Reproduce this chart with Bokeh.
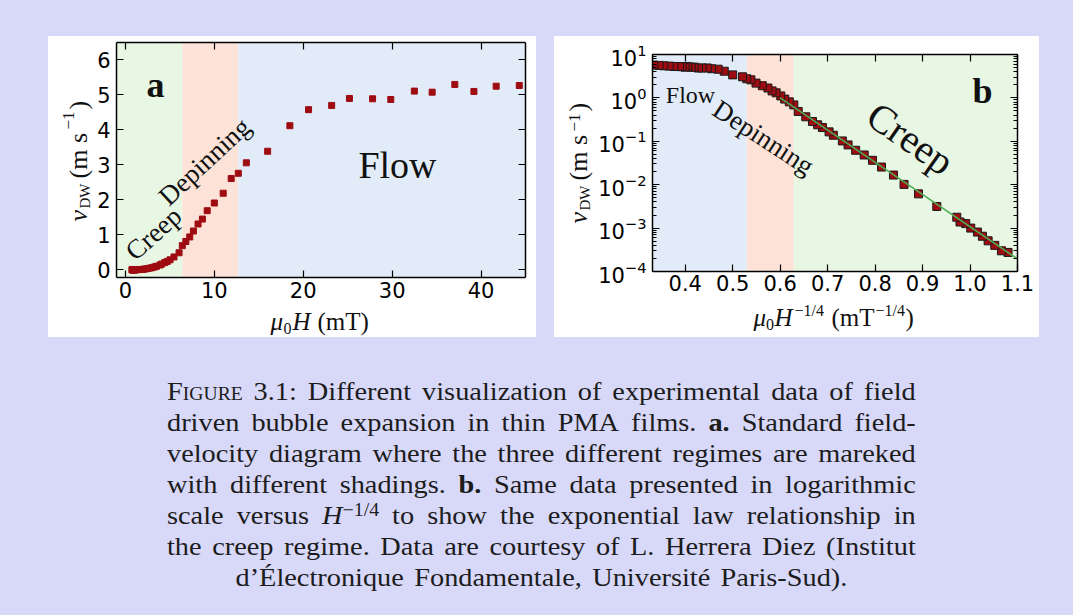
import math
from bokeh.plotting import figure
from bokeh.models import (Range1d, BoxAnnotation, Label, LinearAxis, LogAxis, FixedTicker,
                          PrintfTickFormatter, Spacer, Div, GlobalInlineStyleSheet, Row, Column)
from bokeh.core.properties import value
from bokeh.embed import file_html
from bokeh.resources import INLINE

# ---------------- data ----------------
field_mT = [0.735, 0.774, 0.816, 0.861, 0.902, 0.940, 0.994, 1.037, 1.089, 1.120,
            1.337, 1.584, 1.820, 2.021, 2.283, 2.510, 2.744, 3.013, 3.281, 3.502,
            3.891, 4.094, 4.437, 4.705, 5.022, 5.466, 6.036, 6.40, 6.80, 7.24,
            7.65, 8.17, 8.66, 9.20, 10.0, 11.0, 11.9, 12.7, 13.6, 16.0,
            18.5, 20.6, 23.2, 25.2, 27.8, 29.85, 32.5, 34.5, 37.05, 39.2,
            41.7, 44.3, 50.0, 55.6, 63.0, 70.6, 80.4]
velocity_ms = [0.000275, 0.0003, 0.0004, 0.00051, 0.00065, 0.00081, 0.00100, 0.00127, 0.00138, 0.00178,
               0.00315, 0.00615, 0.01016, 0.01668, 0.0255, 0.0365, 0.0484, 0.0622, 0.0826, 0.102,
               0.138, 0.165, 0.2075, 0.24, 0.286, 0.367, 0.487, 0.69, 0.81, 0.94,
               1.11, 1.31, 1.45, 1.69, 1.91, 2.19, 2.61, 2.76, 3.06, 3.39,
               4.12, 4.58, 4.70, 4.90, 4.89, 4.87, 5.11, 5.08, 5.30, 5.10,
               5.25, 5.27, 5.30, 5.40, 5.50, 5.60, 5.70]
regime_bounds_mT = [6.4, 12.7]          # creep|depinning, depinning|flow
fit_x = [0.60, 1.10]                     # creep-law fit (H^-1/4)
fit_v = [1.0, 1.95e-4]
xa_ticks = [0, 10, 20, 30, 40]
ya_ticks = [0, 1, 2, 3, 4, 5, 6]
xb_ticks = [0.4, 0.5, 0.6, 0.7, 0.8, 0.9, 1.0, 1.1]

h_inv_quarter = [h ** -0.25 for h in field_mT]
bounds_b = [h ** -0.25 for h in regime_bounds_mT]   # [~0.629, ~0.530]

caption_lines = [
    ['<span style="font-variant:small-caps">Figure</span>', '3.1:', 'Different', 'visualization', 'of',
     'experimental', 'data', 'of', 'field'],
    ['driven', 'bubble', 'expansion', 'in', 'thin', 'PMA', 'films.', '<b>a.</b>', 'Standard', 'field-'],
    ['velocity', 'diagram', 'where', 'the', 'three', 'different', 'regimes', 'are', 'mareked'],
    ['with', 'different', 'shadings.', '<b>b.</b>', 'Same', 'data', 'presented', 'in', 'logarithmic'],
    ['scale', 'versus', '<i>H</i><sup style="font-size:0.7em;vertical-align:0.45em;line-height:0">\u22121/4</sup>',
     'to', 'show', 'the', 'exponential', 'law', 'relationship', 'in'],
    ['the', 'creep', 'regime.', 'Data', 'are', 'courtesy', 'of', 'L.', 'Herrera', 'Diez', '(Institut'],
]
caption_last = 'd\u2019\u00c9lectronique Fondamentale, Universit\u00e9 Paris-Sud).'

# ---------------- styles ----------------
PAGE_BG = "#d8d8f9"
GREEN = "#e8f6e4"
ORANGE = "#fde3d7"
BLUE = "#e2ecf8"
MARK = "#9e0c12"
FIT = "#4fae55"
SERIF = "Liberation Serif"
SANS = "DejaVu Sans"
TICK_PX = "21px"
INK = "#111111"
MID = 0.3375   # em distance from alphabetic baseline to the text-box middle

ORIGINS = {}


def style_axis(ax, labels=True):
    ax.axis_line_width = 1.5
    ax.axis_line_color = "black"
    ax.major_tick_in = 7
    ax.major_tick_out = 0
    ax.major_tick_line_width = 1.2
    ax.minor_tick_in = 4
    ax.minor_tick_out = 0
    ax.minor_tick_line_width = 1.0
    ax.major_label_text_font = SANS
    ax.major_label_text_color = "black"
    ax.major_label_text_font_size = TICK_PX
    if not labels:
        ax.major_label_text_font_size = "1px"
        ax.major_label_text_color = None
        ax.major_label_standoff = 0


def put(p, fl, fb, px, py, text, size, style="normal", angle=0.0):
    """Centred label inside a plot frame; (px, py) = page pixels of the text-box centre."""
    p.add_layout(Label(x=px - fl, y=fb - py, x_units="screen", y_units="screen", text=text,
                       text_font=SERIF, text_font_size=f"{size}px", text_font_style=style,
                       angle=angle, text_align="center", text_baseline="middle", text_color=INK))


def strip(x0, x1, y0, y1):
    """Blank white figure whose data space is pixels (for compound axis titles)."""
    s = figure(width=x1 - x0, height=y1 - y0, x_range=Range1d(0, x1 - x0), y_range=Range1d(0, y1 - y0),
               x_axis_type=None, y_axis_type=None, output_backend="svg", toolbar_location=None,
               min_border=0, frame_align=False, border_fill_color="white",
               background_fill_color="white", outline_line_color=None)
    ORIGINS[s.id] = (x0, y1)
    return s


def htxt(s, px, base_y, t, size, style="normal"):
    """Horizontal text starting at page x, with alphabetic baseline at page y."""
    x0, yb = ORIGINS[s.id]
    s.text(x=[px - x0], y=[yb - (base_y - MID * size)], text=[t], text_font=value(SERIF),
           text_font_size=value(f"{size}px"), text_font_style=value(style), angle=0,
           text_align="left", text_baseline="middle", text_color=INK)


def vtxt(s, base_x, py, t, size, style="normal"):
    """Upward-reading text with baseline at page x, starting at page y."""
    x0, yb = ORIGINS[s.id]
    s.text(x=[(base_x - MID * size) - x0], y=[yb - py], text=[t], text_font=value(SERIF),
           text_font_size=value(f"{size}px"), text_font_style=value(style), angle=math.pi / 2,
           text_align="left", text_baseline="middle", text_color=INK)


# ---------------- panel a ----------------
pa = figure(frame_width=409, frame_height=235, x_range=Range1d(-1, 45), y_range=Range1d(-0.22, 6.5),
            output_backend="svg", toolbar_location=None, frame_align=False,
            min_border_left=22, min_border_right=11, min_border_top=6, min_border_bottom=30,
            border_fill_color="white", background_fill_color="white", outline_line_color=None)
pa.grid.visible = False
pa.add_layout(BoxAnnotation(right=regime_bounds_mT[0], fill_color=GREEN, fill_alpha=1,
                            line_color=None, level="underlay"))
pa.add_layout(BoxAnnotation(left=regime_bounds_mT[0], right=regime_bounds_mT[1], fill_color=ORANGE,
                            fill_alpha=1, line_color=None, level="underlay"))
pa.add_layout(BoxAnnotation(left=regime_bounds_mT[1], fill_color=BLUE, fill_alpha=1,
                            line_color=None, level="underlay"))
pa.scatter(field_mT, velocity_ms, marker="square", size=6, fill_color=MARK, line_color=MARK)

ta_x = FixedTicker(ticks=xa_ticks)
ta_y = FixedTicker(ticks=ya_ticks)
pa.xaxis.ticker = ta_x
pa.yaxis.ticker = ta_y
style_axis(pa.xaxis[0])
style_axis(pa.yaxis[0])
pa.xaxis.major_label_standoff = 4
pa.yaxis.major_label_standoff = 6
a_top = LinearAxis(ticker=ta_x)
a_right = LinearAxis(ticker=ta_y)
style_axis(a_top, labels=False)
style_axis(a_right, labels=False)
pa.add_layout(a_top, "above")
pa.add_layout(a_right, "right")

FLa, FBa = 116, 277
put(pa, FLa, FBa, 155, 84, "a", 36, style="bold")
put(pa, FLa, FBa, 397, 164, "Flow", 38)
put(pa, FLa, FBa, 153, 233, "Creep", 27, angle=math.radians(42))
put(pa, FLa, FBa, 204, 161, "Depinning", 27, angle=math.radians(43))

# axis titles of panel a
ya_strip = strip(48, 94, 36, 337)
vtxt(ya_strip, 87, 221, "v", 26, style="italic")
vtxt(ya_strip, 89.5, 208, "DW", 15)
vtxt(ya_strip, 87, 178, "(m s", 26)
vtxt(ya_strip, 74, 129, "\u22121", 17)
vtxt(ya_strip, 87, 109, ")", 26)

xa_strip = strip(94, 536, 307, 337)
htxt(xa_strip, 270, 329.5, "\u03bc", 25, style="italic")
htxt(xa_strip, 283, 333, "0", 16)
htxt(xa_strip, 292, 329.5, "H", 25, style="italic")
htxt(xa_strip, 317, 329.5, "(mT)", 25)

# ---------------- panel b ----------------
pb = figure(frame_width=365, frame_height=217, x_range=Range1d(0.331, 1.1), y_range=Range1d(1e-4, 10),
            y_axis_type="log", output_backend="svg", toolbar_location=None, frame_align=False,
            min_border_left=58, min_border_right=22, min_border_top=18, min_border_bottom=30,
            border_fill_color="white", background_fill_color="white", outline_line_color=None)
pb.grid.visible = False
pb.add_layout(BoxAnnotation(right=bounds_b[1], fill_color=BLUE, fill_alpha=1,
                            line_color=None, level="underlay"))
pb.add_layout(BoxAnnotation(left=bounds_b[1], right=bounds_b[0], fill_color=ORANGE, fill_alpha=1,
                            line_color=None, level="underlay"))
pb.add_layout(BoxAnnotation(left=bounds_b[0], fill_color=GREEN, fill_alpha=1,
                            line_color=None, level="underlay"))
pb.scatter(h_inv_quarter, velocity_ms, marker="square", size=8, fill_color=MARK,
           line_color="#1a1a1a", line_width=1)
pb.line(fit_x, fit_v, line_color=FIT, line_width=1.6)

tb_x = FixedTicker(ticks=xb_ticks)
pb.xaxis.ticker = tb_x
pb.xaxis.formatter = PrintfTickFormatter(format="%.1f")
style_axis(pb.xaxis[0])
style_axis(pb.yaxis[0])
pb.xaxis.major_label_standoff = 3
pb.yaxis.major_label_standoff = 6
tb_y = pb.yaxis[0].ticker
b_top = LinearAxis(ticker=tb_x)
b_right = LogAxis(ticker=tb_y)
style_axis(b_top, labels=False)
style_axis(b_right, labels=False)
pb.add_layout(b_top, "above")
pb.add_layout(b_right, "right")

FLb, FBb = 652, 271
put(pb, FLb, FBb, 982, 90, "b", 36, style="bold")
put(pb, FLb, FBb, 690, 94, "Flow", 24)
put(pb, FLb, FBb, 763, 137, "Depinning", 27, angle=math.radians(-33))
put(pb, FLb, FBb, 910, 138, "Creep", 40, angle=math.radians(-35))

yb_strip = strip(554, 594, 36, 337)
vtxt(yb_strip, 587, 223, "v", 26, style="italic")
vtxt(yb_strip, 589.5, 210, "DW", 15)
vtxt(yb_strip, 587, 180, "(m s", 26)
vtxt(yb_strip, 580, 131, "\u22121", 17)
vtxt(yb_strip, 587, 111, ")", 26)

xb_strip = strip(594, 1039, 301, 337)
htxt(xb_strip, 753, 325, "\u03bc", 25, style="italic")
htxt(xb_strip, 765.5, 329.5, "0", 16)
htxt(xb_strip, 774, 325, "H", 25, style="italic")
htxt(xb_strip, 794, 315.5, "\u22121/4", 16)
htxt(xb_strip, 831, 325, "(mT", 25)
htxt(xb_strip, 875, 315.5, "\u22121/4", 16)
htxt(xb_strip, 905, 325, ")", 25)

# ---------------- caption ----------------
SCALE = 1.09
inner_w = round(749 / SCALE)
box = (f"width:{inner_w}px;transform:scaleX({SCALE});transform-origin:0 0;"
       "height:31px;white-space:nowrap;")
html = ['<div style="font-family:\'Liberation Serif\';font-size:26px;line-height:31px;'
        'color:#1c1c1c;width:749px;">']
for words in caption_lines:
    html.append('<div style="' + box + 'display:flex;justify-content:space-between;">'
                + ''.join(f'<span>{w}</span>' for w in words) + '</div>')
html.append('<div style="' + box + 'text-align:center;word-spacing:3px;">' + caption_last + '</div>')
html.append('</div>')
caption = Div(text=''.join(html), width=749, height=222)

WHITE = {"background-color": "white"}
panel_a = Row(children=[ya_strip, Column(children=[pa, xa_strip], styles=WHITE)], styles=WHITE)
panel_b = Row(children=[yb_strip, Column(children=[pb, xb_strip], styles=WHITE)], styles=WHITE)

layout = Column(
    children=[
        Spacer(width=10, height=36),
        Row(children=[Spacer(width=48, height=10), panel_a, Spacer(width=18, height=10), panel_b]),
        Spacer(width=10, height=34),
        Row(children=[Spacer(width=162, height=10), caption]),
    ],
    stylesheets=[GlobalInlineStyleSheet(css=f"html, body {{ background-color: {PAGE_BG}; }}")],
)

open("out.html", "w").write(file_html(layout, INLINE))
